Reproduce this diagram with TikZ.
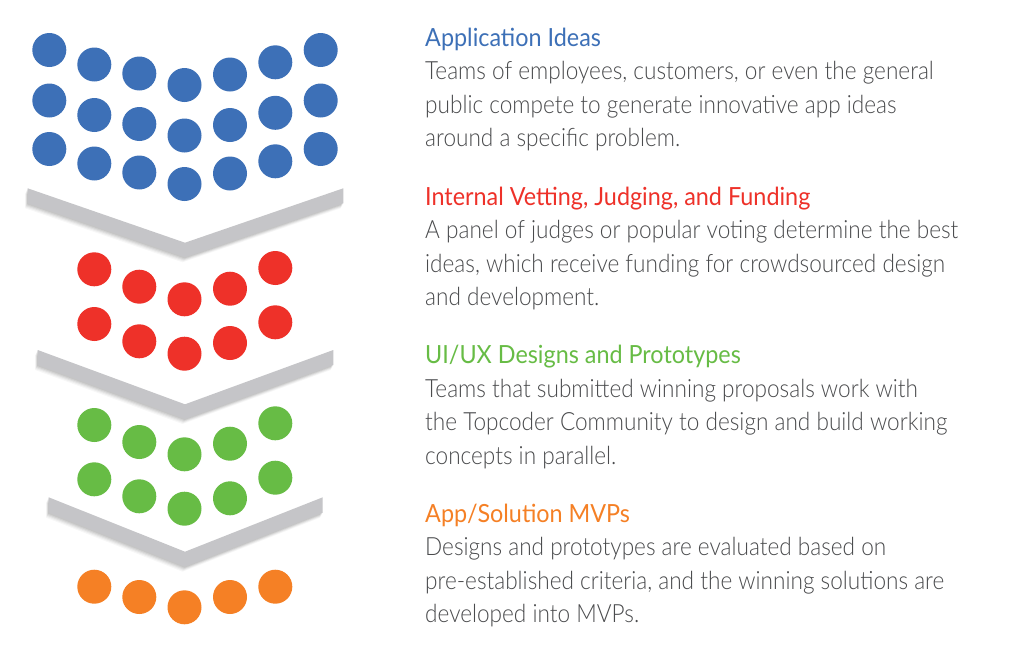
\documentclass[tikz,border=0pt]{standalone}
\usepackage{fontspec}
\setmainfont{Lato}[FakeStretch=0.935]
\newfontfamily\bodyfont{Lato Light}[FakeStretch=0.9]
\definecolor{cblue}{HTML}{3D70B7}
\definecolor{cred}{HTML}{EE3129}
\definecolor{cgreen}{HTML}{67BC45}
\definecolor{corange}{HTML}{F58025}
\definecolor{cgray}{HTML}{C5C5C8}
\definecolor{ctext}{HTML}{4A4B4D}
\tikzset{
  dot/.style={circle, inner sep=0pt, minimum size=34pt, draw=none},
  chevron/.style={fill=cgray, draw=none},
  chevshadow/.style={fill=black, draw=none},
  title/.style={anchor=base west, inner sep=0pt, font=\fontsize{25}{28}\selectfont},
  body/.style={anchor=base west, inner sep=0pt, text=ctext, font=\bodyfont\fontsize{25.1}{28}\selectfont},
}
\newcommand\chevpath[6]{(#1,#2) -- (185,#3) -- (#4,#2) -- (#4,#5) -- (185,#6) -- (#1,#5) -- cycle}
\begin{document}
\begin{tikzpicture}[x=1pt,y=-1pt]
\useasboundingbox[fill=white] (0,0) rectangle (1024,656);
% chevron shadows and chevrons
\foreach \a/\b/\c/\d/\e/\f in {27.7/188.3/242.7/343.3/203.3/257.3, 37.7/350/404.3/333.3/365/419, 48.7/497.3/551.7/322.7/512.7/566.7}{
  \foreach \s/\op in {5/0.03, 4/0.04, 3/0.05, 2/0.06, 1/0.06}{
    \path[chevshadow, opacity=\op, xshift=-0.5*\s pt, yshift=-\s pt] \chevpath{\a}{\b}{\c}{\d}{\e}{\f};
  }
  \path[chevron] \chevpath{\a}{\b}{\c}{\d}{\e}{\f};
}
% blue dots
\foreach \x/\o [count=\i] in {49.3/0, 94.3/14.5, 139.3/23.5, 184.5/35, 230/24.5, 275.3/12.3, 320.7/0}{
  \foreach \y [count=\j] in {50, 100.5, 149}{
    \node[dot, fill=cblue] (b\i\j) at (\x,\y+\o) {};
  }
}
% red dots
\foreach \x/\ya/\yb [count=\i] in {94.3/269.3/324, 139.3/286.7/341.3, 184.5/299.3/353.7, 230/288.7/343, 275.3/268/322.3}{
  \node[dot, fill=cred] (r\i a) at (\x,\ya) {};
  \node[dot, fill=cred] (r\i b) at (\x,\yb) {};
}
% green dots
\foreach \x/\ya/\yb [count=\i] in {94.3/425/479.3, 139.3/442/496.3, 184.5/454.3/508.7, 230/443.7/498.3, 275.3/423.3/477.7}{
  \node[dot, fill=cgreen] (g\i a) at (\x,\ya) {};
  \node[dot, fill=cgreen] (g\i b) at (\x,\yb) {};
}
% orange dots
\foreach \x/\y [count=\i] in {94.3/586.7, 139.3/597, 184.5/607.3, 230/597, 275.3/586.7}{
  \node[dot, fill=corange] (o\i) at (\x,\y) {};
}
% texts
\node[title, text=cblue] (t1) at (425,46) {Application Ideas};
\node[body] (t1a) at (425,79.5) {Teams of employees, customers, or even the general};
\node[body] (t1b) at (425,113) {public compete to generate innovative app ideas};
\node[body] (t1c) at (425,146.5) {around a specific problem.};
\node[title, text=cred] (t2) at (425,205) {Internal Vetting, Judging, and Funding};
\node[body] (t2a) at (425,238.5) {A panel of judges or popular voting determine the best};
\node[body] (t2b) at (425,272) {ideas, which receive funding for crowdsourced design};
\node[body] (t2c) at (425,305.5) {and development.};
\node[title, text=cgreen] (t3) at (425,363.5) {UI/UX Designs and Prototypes};
\node[body] (t3a) at (425,397) {Teams that submitted winning proposals work with};
\node[body] (t3b) at (425,430.5) {the Topcoder Community to design and build working};
\node[body] (t3c) at (425,464) {concepts in parallel.};
\node[title, text=corange] (t4) at (425,522) {App/Solution MVPs};
\node[body] (t4a) at (425,555.5) {Designs and prototypes are evaluated based on};
\node[body] (t4b) at (425,589) {pre-established criteria, and the winning solutions are};
\node[body] (t4c) at (425,622.5) {developed into MVPs.};
\end{tikzpicture}
\end{document}
